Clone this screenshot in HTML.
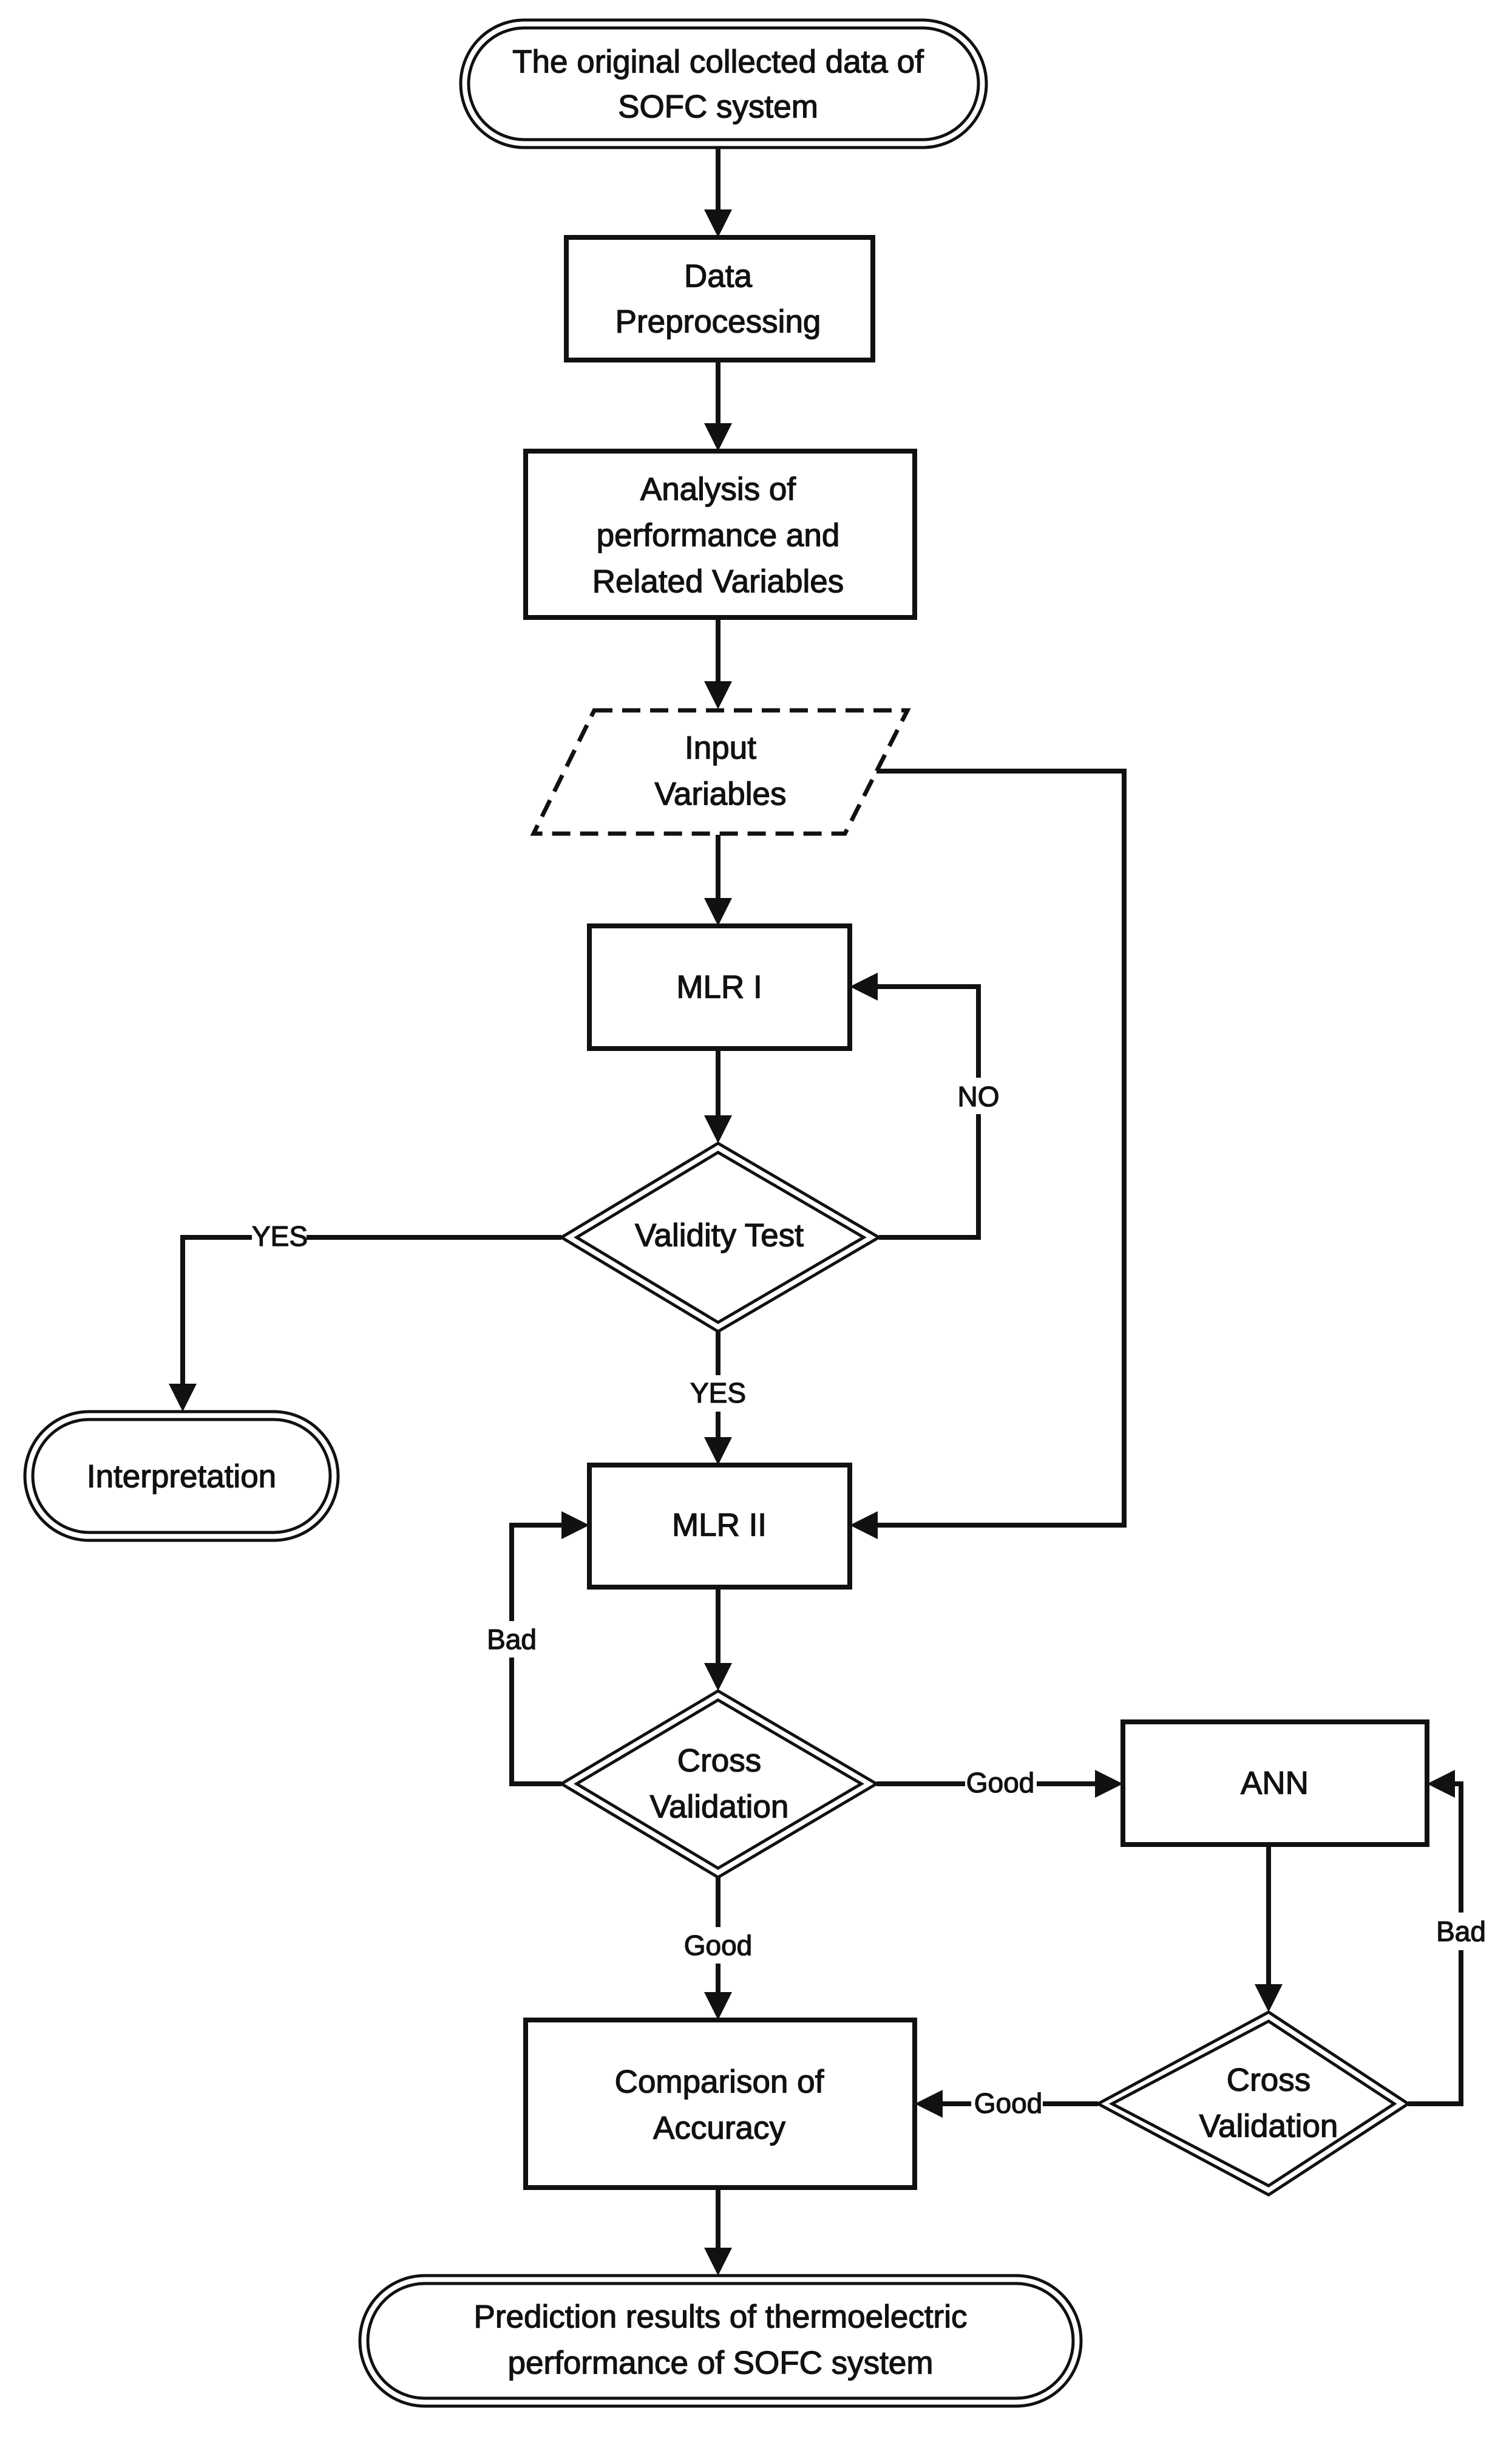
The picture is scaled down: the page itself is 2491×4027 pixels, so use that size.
<!DOCTYPE html>
<html><head><meta charset="utf-8"><style>
html,body{margin:0;padding:0;background:#fff;}
svg{display:block;}
text{font-family:"Liberation Sans",sans-serif;font-size:53px;fill:#111;stroke:#111;stroke-width:1.3;text-anchor:middle;dominant-baseline:central;}
.s{fill:none;stroke:#111;stroke-width:8;}
.d{fill:none;stroke:#111;stroke-width:5;}
.l{fill:none;stroke:#111;stroke-width:8;}
.a{fill:#111;}
.lb{font-size:46px;}
</style></head><body>
<svg width="2491" height="4027" viewBox="0 0 2491 4027" xmlns="http://www.w3.org/2000/svg">
<rect width="2491" height="4027" fill="#fff"/>
<rect class="d" x="759" y="33" width="866" height="210" rx="105"/>
<rect class="d" x="772" y="46" width="840" height="184" rx="92"/>
<text x="1183" y="102">The original collected data of</text>
<text x="1183" y="176">SOFC system</text>
<line class="l" x1="1183" y1="243" x2="1183" y2="350"/><polygon class="a" points="1160,345 1206,345 1183,391"/>
<rect class="s" x="933" y="391" width="505" height="202"/>
<text x="1183" y="455">Data</text><text x="1183" y="530">Preprocessing</text>
<line class="l" x1="1183" y1="593" x2="1183" y2="700"/><polygon class="a" points="1160,697 1206,697 1183,743"/>
<rect class="s" x="866" y="743" width="641" height="274"/>
<text x="1183" y="806">Analysis of</text><text x="1183" y="882">performance and</text><text x="1183" y="958">Related Variables</text>
<line class="l" x1="1183" y1="1017" x2="1183" y2="1125"/><polygon class="a" points="1160,1122 1206,1122 1183,1168"/>
<polygon points="979,1170 1495,1170 1392,1373 879,1373" fill="none" stroke="#111" stroke-width="7" stroke-dasharray="30,16"/>
<text x="1187" y="1232">Input</text><text x="1187" y="1308">Variables</text>
<line class="l" x1="1183" y1="1375" x2="1183" y2="1482"/><polygon class="a" points="1160,1479 1206,1479 1183,1525"/>
<polyline class="l" points="1444,1270 1852,1270 1852,2512 1445,2512"/>
<polygon class="a" points="1400,2512 1446,2489 1446,2535"/>
<rect class="s" x="971" y="1525" width="429" height="202"/>
<text x="1185" y="1626">MLR I</text>
<line class="l" x1="1183" y1="1727" x2="1183" y2="1840"/><polygon class="a" points="1160,1837 1206,1837 1183,1883"/>
<polygon class="d" points="1183,1883 1448,2038 1183,2193 925,2038"/>
<polygon class="d" points="1183,1898 1423,2038 1183,2178 950,2038"/>
<text x="1185" y="2035">Validity Test</text>
<polyline class="l" points="1448,2038 1612,2038 1612,1625 1445,1625"/>
<polygon class="a" points="1400,1625 1446,1602 1446,1648"/>
<rect x="1575" y="1775" width="74" height="60" fill="#fff"/>
<text class="lb" x="1612" y="1806">NO</text>
<polyline class="l" points="925,2038 301,2038 301,2280"/>
<polygon class="a" points="278,2279 324,2279 301,2325"/>
<rect x="415" y="2012" width="90" height="50" fill="#fff"/>
<text class="lb" x="461" y="2036">YES</text>
<rect class="d" x="41" y="2325" width="516" height="212" rx="106"/>
<rect class="d" x="54" y="2338" width="490" height="186" rx="93"/>
<text x="299" y="2432">Interpretation</text>
<line class="l" x1="1183" y1="2193" x2="1183" y2="2370"/><polygon class="a" points="1160,2367 1206,2367 1183,2413"/>
<rect x="1135" y="2265" width="96" height="60" fill="#fff"/>
<text class="lb" x="1183" y="2294">YES</text>
<rect class="s" x="971" y="2413" width="429" height="201"/>
<text x="1185" y="2512">MLR II</text>
<line class="l" x1="1183" y1="2614" x2="1183" y2="2742"/><polygon class="a" points="1160,2739 1206,2739 1183,2785"/>
<polygon class="d" points="1183,2785 1444,2938 1183,3092 925,2938"/>
<polygon class="d" points="1183,2800 1419,2938 1183,3077 950,2938"/>
<text x="1185" y="2900">Cross</text><text x="1185" y="2976">Validation</text>
<polyline class="l" points="925,2938 843,2938 843,2512 930,2512"/>
<polygon class="a" points="971,2512 925,2489 925,2535"/>
<rect x="800" y="2670" width="88" height="60" fill="#fff"/>
<text class="lb" x="843" y="2700">Bad</text>
<line class="l" x1="1444" y1="2938" x2="1808" y2="2938"/>
<polygon class="a" points="1850,2938 1804,2915 1804,2961"/>
<rect x="1590" y="2912" width="118" height="52" fill="#fff"/>
<text class="lb" x="1648" y="2936">Good</text>
<rect class="s" x="1850" y="2836" width="501" height="202"/>
<text x="2100" y="2937">ANN</text>
<line class="l" x1="2090" y1="3038" x2="2090" y2="3272"/><polygon class="a" points="2067,3268 2113,3268 2090,3314"/>
<polygon class="d" points="2090,3314 2320,3465 2090,3615 1809,3465"/>
<polygon class="d" points="2090,3329 2297,3465 2090,3600 1832,3465"/>
<text x="2090" y="3426">Cross</text><text x="2090" y="3502">Validation</text>
<polyline class="l" points="2320,3465 2407,3465 2407,2938 2395,2938"/>
<polygon class="a" points="2351,2938 2397,2915 2397,2961"/>
<rect x="2362" y="3150" width="92" height="62" fill="#fff"/>
<text class="lb" x="2407" y="3181">Bad</text>
<line class="l" x1="1809" y1="3465" x2="1550" y2="3465"/>
<polygon class="a" points="1507,3465 1553,3442 1553,3488"/>
<rect x="1600" y="3440" width="118" height="52" fill="#fff"/>
<text class="lb" x="1661" y="3464">Good</text>
<line class="l" x1="1183" y1="3092" x2="1183" y2="3285"/><polygon class="a" points="1160,3281 1206,3281 1183,3327"/>
<rect x="1122" y="3174" width="122" height="60" fill="#fff"/>
<text class="lb" x="1183" y="3204">Good</text>
<rect class="s" x="866" y="3327" width="641" height="276"/>
<text x="1185" y="3429">Comparison of</text><text x="1185" y="3505">Accuracy</text>
<line class="l" x1="1183" y1="3603" x2="1183" y2="3705"/><polygon class="a" points="1160,3702 1206,3702 1183,3748"/>
<rect class="d" x="593" y="3748" width="1188" height="215" rx="107"/>
<rect class="d" x="606" y="3761" width="1162" height="189" rx="94"/>
<text x="1187" y="3816">Prediction results of thermoelectric</text>
<text x="1187" y="3892">performance of SOFC system</text>
</svg>
</body></html>
